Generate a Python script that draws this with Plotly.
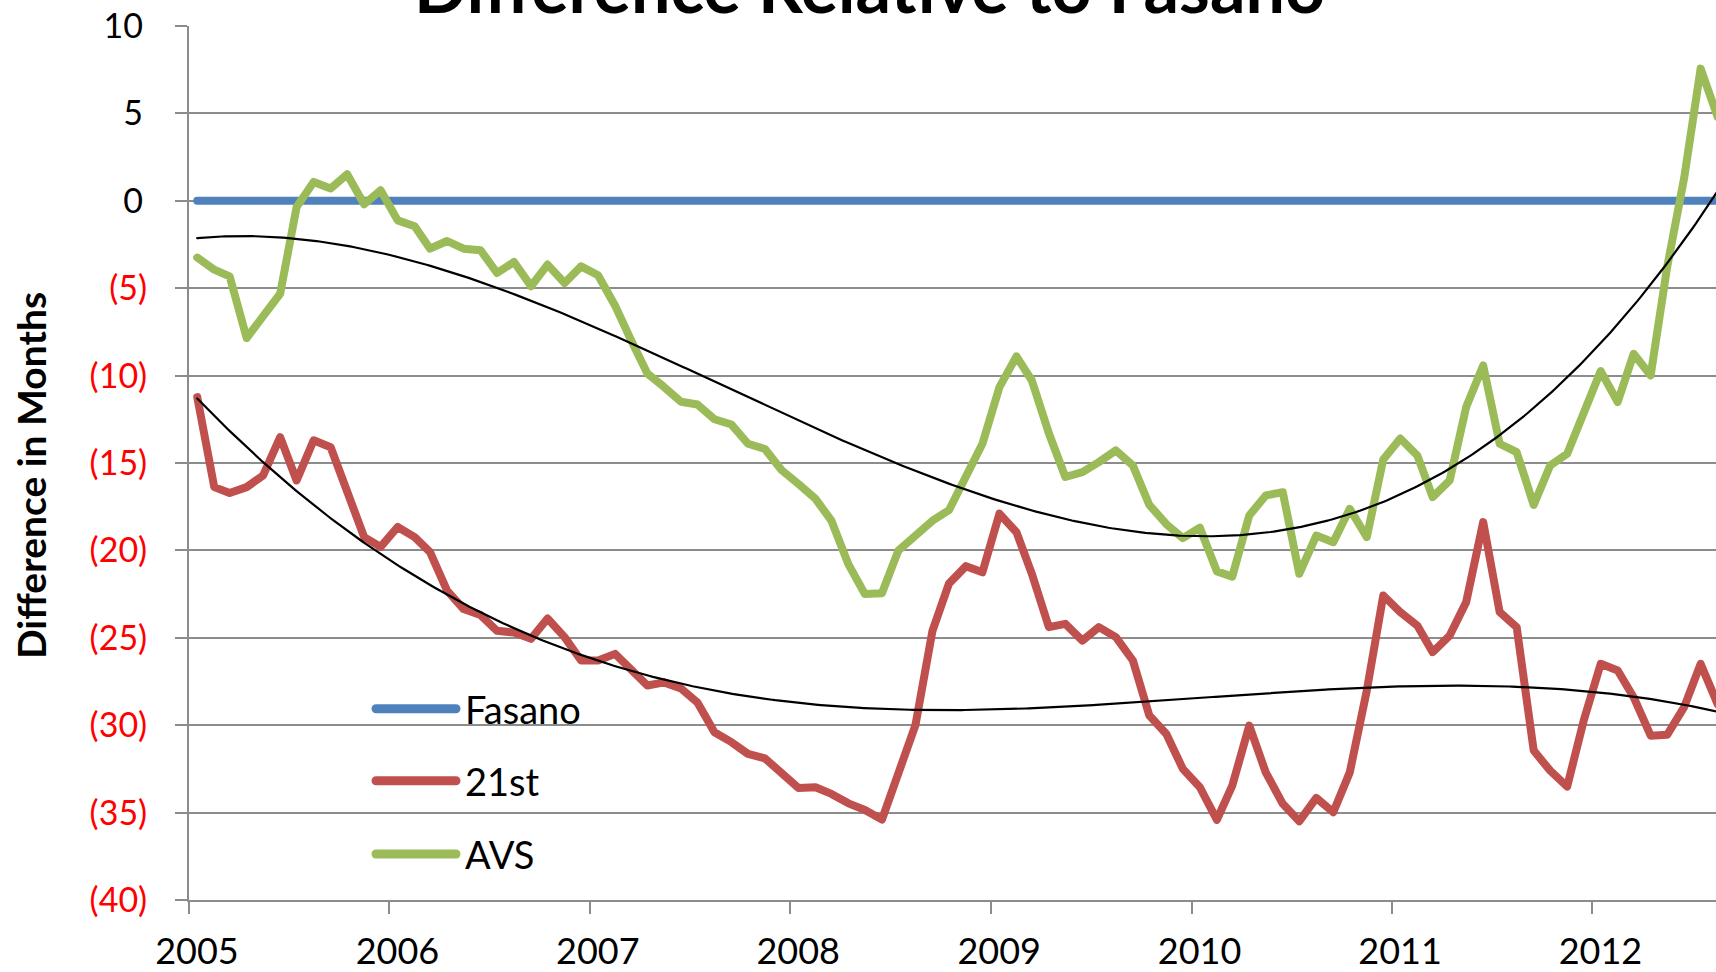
import numpy as np
import pandas as pd
import plotly.graph_objects as go

# ---------------- data (monthly, Jan 2005 - Aug 2012) ----------------
months = pd.date_range("2005-01-01", periods=92, freq="MS") + pd.Timedelta(days=15)

fasano = [0.0] * 92

st21 = [-11.23, -16.38, -16.72, -16.38, -15.71, -13.52, -16.0, -13.7, -14.1, -16.7,
        -19.24, -19.8, -18.66, -19.24, -20.1, -22.3, -23.35, -23.7, -24.6, -24.7,
        -25.06, -23.9, -24.96, -26.3, -26.3, -25.92, -26.8, -27.73, -27.55, -27.9,
        -28.7, -30.4, -30.97, -31.64, -31.9, -32.7, -33.59, -33.55, -33.93, -34.47,
        -34.85, -35.4, -32.6, -30.0, -24.6, -21.9, -20.9, -21.25, -17.9, -18.96,
        -21.34, -24.39, -24.2, -25.16, -24.39, -24.96, -26.3, -29.45, -30.5, -32.5,
        -33.55, -35.42, -33.46, -30.02, -32.7, -34.5, -35.5, -34.16, -34.98, -32.7,
        -28.02, -22.58, -23.53, -24.3, -25.82, -24.87, -22.96, -18.38, -23.53, -24.39,
        -31.45, -32.6, -33.51, -29.74, -26.49, -26.87, -28.4, -30.6, -30.55, -28.97,
        -26.49, -28.8]

avs = [-3.25, -3.94, -4.32, -7.85, -6.6, -5.32, -0.35, 1.08, 0.70, 1.52,
       -0.2, 0.6, -1.12, -1.46, -2.74, -2.30, -2.74, -2.83, -4.13, -3.50,
       -4.89, -3.65, -4.70, -3.75, -4.26, -6.0, -7.9, -9.89, -10.65, -11.5,
       -11.65, -12.5, -12.8, -13.9, -14.2, -15.4, -16.2, -17.05, -18.3, -20.8,
       -22.5, -22.45, -20.0, -19.1, -18.3, -17.7, -15.8, -13.9, -10.66, -8.9,
       -10.28, -13.3, -15.8, -15.52, -14.95, -14.28, -15.14, -17.4, -18.5, -19.3,
       -18.7, -21.2, -21.5, -18.0, -16.86, -16.67, -21.34, -19.15, -19.53, -17.62,
       -19.24, -14.8, -13.6, -14.57, -16.95, -16.0, -11.8, -9.42, -13.9, -14.38,
       -17.4, -15.14, -14.47, -12.19, -9.74, -11.51, -8.75, -9.99, -3.8, 1.3,
       7.56, 4.8]

series_names = ["Fasano", "21st", "AVS"]
series_colors = ["#4F81BD", "#C0504D", "#9BBB59"]

year_ticks = [f"{y}-01-01" for y in range(2005, 2013)]
year_labels = [str(y) for y in range(2005, 2013)]

y_ticks = list(range(-40, 11, 5))
y_labels = [(f"{v}\u2009" if v >= 0 else f'<span style="color:#FF0000">({-v})</span>')
            for v in y_ticks]

FONT = "Lato"

# ---------------- figure ----------------
fig = go.Figure()
for name, vals, col in zip(series_names, [fasano, st21, avs], series_colors):
    fig.add_trace(go.Scatter(x=months, y=vals, mode="lines", name=name,
                             line=dict(color=col, width=8), showlegend=False))

# polynomial trendlines (order 3) fitted to the data
days = np.asarray((months - months[0]).days, dtype=float)
tt = np.linspace(days[0], days[-1] + 10, 500)
tdates = months[0] + pd.to_timedelta(tt, unit="D")
for vals in [st21, avs]:
    coef = np.polyfit(days, np.asarray(vals), 3)
    fig.add_trace(go.Scatter(x=tdates, y=np.polyval(coef, tt), mode="lines",
                             line=dict(color="black", width=2.2), showlegend=False,
                             hoverinfo="skip"))

# ---------------- manual legend ----------------
W0, PL, PB, PH = 1527.0, 189.0, 900.0, 874.0
def px_x(p):
    return (p - PL) / W0
def px_y(p):
    return (PB - p) / PH

leg_y = [708.7, 780.7, 854.0]
shapes = []
annotations = []
for name, col, ly in zip(series_names, series_colors, leg_y):
    shapes.append(dict(type="line", xref="paper", yref="paper",
                       x0=px_x(376), x1=px_x(456), y0=px_y(ly), y1=px_y(ly),
                       line=dict(color=col, width=9)))
    annotations.append(dict(text=name, xref="paper", yref="paper",
                            x=px_x(463), y=px_y(ly), xanchor="left", yanchor="middle",
                            showarrow=False, font=dict(family=FONT, size=38, color="black")))

annotations.append(dict(text="<b>Difference in Months</b>", xref="paper", yref="paper",
                        x=px_x(31), y=px_y(476), xanchor="center", yanchor="middle",
                        textangle=-90, showarrow=False,
                        font=dict(family=FONT, size=39, color="black")))

GRID = "#8C8C8C"
fig.update_layout(
    width=1716, height=972,
    margin=dict(l=189, r=0, t=26, b=72),
    paper_bgcolor="white", plot_bgcolor="white",
    title=dict(text="<b>Difference Relative to Fasano</b>", x=869.5 / 1716, xanchor="center",
               xref="container", yref="container", y=1 - 12.7 / 972, yanchor="bottom",
               font=dict(family=FONT, size=70, color="black")),
    xaxis=dict(type="date", range=["2005-01-01", "2012-08-13"],
               tickmode="array", tickvals=year_ticks, ticktext=year_labels,
               ticks="outside", ticklen=12, tickwidth=2, tickcolor=GRID,
               showline=True, linecolor=GRID, linewidth=2,
               showgrid=False, zeroline=False, automargin=False,
               ticklabelshift=8, ticklabelstandoff=7,
               tickfont=dict(family=FONT, size=36, color="black")),
    yaxis=dict(range=[-40, 10], tickmode="array", tickvals=y_ticks, ticktext=y_labels,
               ticks="outside", ticklen=12, tickwidth=2, tickcolor=GRID,
               showline=True, linecolor=GRID, linewidth=2,
               showgrid=True, gridcolor=GRID, gridwidth=2, zeroline=False,
               automargin=False, ticklabelstandoff=21,
               tickfont=dict(family=FONT, size=34, color="black")),
    shapes=shapes,
    annotations=annotations,
    showlegend=False,
)

post = (
    "document.body.style.margin='0';document.body.style.overflow='hidden';"
    "var s=document.createElement('style');"
    "s.innerHTML='.scatterlayer .js-line{stroke-linejoin:round;stroke-linecap:round}"
    " .shapelayer path{stroke-linecap:round}';"
    "document.head.appendChild(s);"
)
fig.write_html("out.html", config={"displayModeBar": False}, post_script=post)
